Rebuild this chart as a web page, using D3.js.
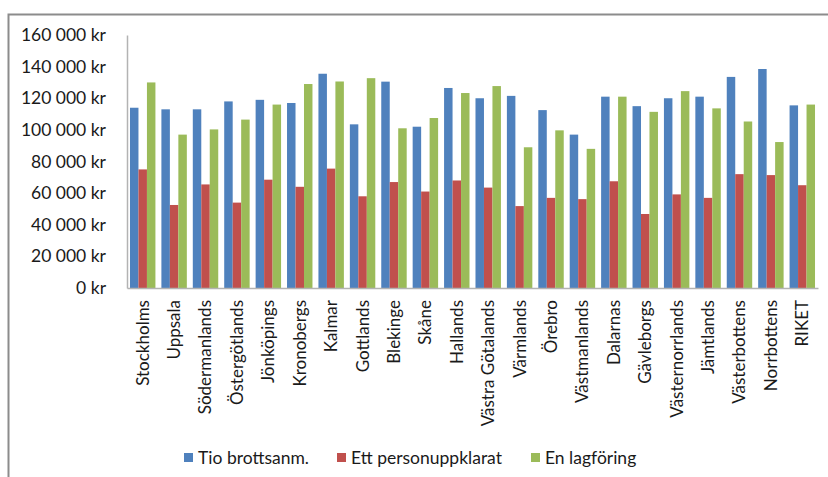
<!DOCTYPE html>
<html>
<head>
<meta charset="utf-8">
<script src="https://cdn.jsdelivr.net/npm/d3@7"></script>
<style>
  html, body { margin: 0; padding: 0; background: #fff; }
  svg { display: block; }
  text { font-family: Lato, "Open Sans", sans-serif; fill: #1a1a1a; }
</style>
</head>
<body>
<svg id="chart" width="828" height="477"></svg>
<script>
// Län (counties) plus the national total
const categories = ["Stockholms", "Uppsala", "Södermanlands", "Östergötlands", "Jönköpings",
  "Kronobergs", "Kalmar", "Gottlands", "Blekinge", "Skåne", "Hallands", "Västra Götalands",
  "Värmlands", "Örebro", "Västmanlands", "Dalarnas", "Gävleborgs", "Västernorrlands",
  "Jämtlands", "Västerbottens", "Norrbottens", "RIKET"];

const seriesNames = ["Tio brottsanm.", "Ett personuppklarat", "En lagföring"];

const tioBrottsanm = [114000, 113000, 113000, 118000, 119000, 117000, 135500, 103500, 130500,
  102000, 126500, 120000, 121500, 112500, 97000, 121000, 115000, 120000, 121000, 133500,
  138500, 115500];

const ettPersonuppklarat = [75000, 52500, 65500, 54000, 68500, 64000, 75500, 58000, 67000,
  61000, 68000, 63500, 51800, 57000, 56200, 67500, 46800, 59200, 57000, 72000, 71400, 65000];

const enLagforing = [130000, 97000, 100300, 106500, 116000, 129000, 130600, 132700, 101000,
  107500, 123300, 127700, 89000, 99700, 88000, 121000, 111400, 124500, 113600, 105300,
  92300, 116000];

const yTicks = [0, 20000, 40000, 60000, 80000, 100000, 120000, 140000, 160000];

const colors = ["#4F81BD", "#C0504D", "#9BBB59"];

const series = [tioBrottsanm, ettPersonuppklarat, enLagforing];

const svg = d3.select("#chart");

// outer chart frame (top and left edges visible)
svg.append("path")
  .attr("d", "M8.5,477 V14.5 H828")
  .attr("fill", "none")
  .attr("stroke", "#8c8c8c")
  .attr("stroke-width", 2);

const plot = { left: 127, right: 818, top: 35, bottom: 288 };

const x0 = d3.scaleBand()
  .domain(categories)
  .range([plot.left, plot.right])
  .paddingInner(0.19)
  .paddingOuter(0.095);

const x1 = d3.scaleBand()
  .domain(d3.range(series.length))
  .range([0, x0.bandwidth()]);

const y = d3.scaleLinear()
  .domain([0, 160000])
  .range([plot.bottom, plot.top]);

const fmt = v => d3.format(",")(v).replace(/,/g, " ") + " kr";

// y axis
const yAxis = svg.append("g")
  .attr("transform", `translate(${plot.left},0)`)
  .call(d3.axisLeft(y).tickValues(yTicks).tickFormat(fmt).tickSize(0).tickPadding(21));
yAxis.select(".domain").attr("stroke", "#b3b3b3").attr("stroke-width", 1.5);
yAxis.selectAll("text")
  .style("font-family", "Lato, 'Open Sans', sans-serif")
  .style("font-size", "17.5px")
  .attr("fill", "#1a1a1a");

// bars
const groups = svg.append("g").selectAll("g")
  .data(categories)
  .join("g")
  .attr("transform", d => `translate(${x0(d)},0)`);

groups.selectAll("rect")
  .data((d, i) => series.map((s, k) => ({ k, v: s[i] })))
  .join("rect")
  .attr("x", d => x1(d.k))
  .attr("y", d => y(d.v))
  .attr("width", x1.bandwidth())
  .attr("height", d => y(0) - y(d.v))
  .attr("fill", d => colors[d.k]);

// x axis
const xAxis = svg.append("g")
  .attr("transform", `translate(0,${plot.bottom})`)
  .call(d3.axisBottom(x0).tickSize(0).tickPadding(0));
xAxis.select(".domain").attr("stroke", "#b3b3b3").attr("stroke-width", 1.5);
xAxis.selectAll("text")
  .attr("transform", "rotate(-90)")
  .attr("text-anchor", "end")
  .attr("x", -12)
  .attr("y", 0)
  .attr("dy", "0.35em")
  .style("font-family", "Lato, 'Open Sans', sans-serif")
  .style("font-size", "17px")
  .attr("fill", "#1a1a1a");

// legend
const legendX = [184, 337, 531];
const legend = svg.append("g");
seriesNames.forEach((name, k) => {
  const g = legend.append("g").attr("transform", `translate(${legendX[k]},457.5)`);
  g.append("rect").attr("x", 0).attr("y", -4.5).attr("width", 9).attr("height", 9).attr("fill", colors[k]);
  g.append("text").attr("x", 14).attr("y", 0).attr("dy", "0.35em")
    .style("font-size", "17.5px").text(name);
});
</script>
</body>
</html>
